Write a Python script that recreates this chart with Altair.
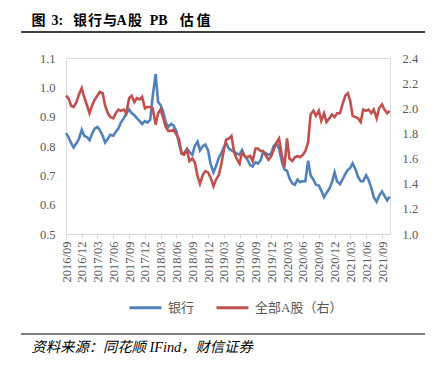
import altair as alt
import pandas as pd

# ---- data (semi-monthly samples, 2016-09-01 .. 2021-10-15)
start_date = "2016-09-01"
n_points = 124

bank_pb = [
    0.844, 0.83, 0.81, 0.795, 0.81, 0.825, 0.855, 0.835, 0.83, 0.82,
    0.845, 0.86, 0.865, 0.855, 0.835, 0.812, 0.825, 0.838, 0.835, 0.848,
    0.86, 0.88, 0.895, 0.91, 0.925, 0.912, 0.905, 0.895, 0.885, 0.875,
    0.885, 0.88, 0.89, 0.97, 1.045, 0.95, 0.94, 0.92, 0.88, 0.865,
    0.875, 0.87, 0.85, 0.81, 0.775, 0.775, 0.79, 0.78, 0.77, 0.80,
    0.815, 0.785, 0.80, 0.805, 0.785, 0.74, 0.71, 0.73, 0.76, 0.775,
    0.795, 0.81, 0.79, 0.785, 0.78, 0.775, 0.77, 0.786, 0.765, 0.755,
    0.735, 0.73, 0.745, 0.74, 0.752, 0.78, 0.775, 0.77, 0.775, 0.80,
    0.81, 0.79, 0.745, 0.72, 0.715, 0.69, 0.672, 0.668, 0.685, 0.677,
    0.68, 0.68, 0.75, 0.70, 0.685, 0.668, 0.665, 0.648, 0.625, 0.64,
    0.655, 0.675, 0.71, 0.68, 0.67, 0.685, 0.705, 0.718, 0.725, 0.741,
    0.72, 0.695, 0.68, 0.68, 0.70, 0.685, 0.657, 0.625, 0.61, 0.63,
    0.645, 0.63, 0.615, 0.627,
]

all_a_pb = [
    2.10, 2.08, 2.02, 2.01, 2.05, 2.11, 2.16, 2.09, 2.02, 1.96,
    2.03, 2.07, 2.10, 2.13, 2.12, 2.02, 1.96, 1.93, 1.92, 1.96,
    1.99, 1.98, 1.99, 1.96, 2.08, 2.10, 2.05, 2.08, 2.07, 2.09,
    2.00, 2.01, 2.01, 2.00, 1.87, 1.96, 1.99, 1.93, 1.85, 1.82,
    1.82, 1.83, 1.79, 1.76, 1.64, 1.63, 1.67, 1.58, 1.60, 1.57,
    1.46, 1.40, 1.47, 1.50, 1.49, 1.45, 1.38, 1.43, 1.47, 1.55,
    1.66, 1.75, 1.76, 1.78, 1.65, 1.60, 1.56, 1.65, 1.62, 1.61,
    1.62, 1.58, 1.68, 1.68, 1.66, 1.66, 1.62, 1.59, 1.62, 1.67,
    1.73, 1.76, 1.62, 1.53, 1.76, 1.60, 1.58, 1.61, 1.62, 1.61,
    1.63, 1.66, 1.73, 1.95, 1.98, 1.94, 1.98, 1.90, 1.96, 1.89,
    1.92, 1.95, 1.93, 1.96, 1.96, 2.03, 2.10, 2.12, 2.06, 1.94,
    1.93, 1.92, 1.89, 1.99, 1.98, 1.99, 1.96, 1.99, 1.92, 2.00,
    2.03, 1.99, 1.96, 1.98,
]

series_names = ["银行", "全部A股（右）"]
series_colors = ["#4F81BD", "#C0504D"]

tick_labels = [
    "2016/09", "2016/12", "2017/03", "2017/06", "2017/09", "2017/12",
    "2018/03", "2018/06", "2018/09", "2018/12", "2019/03", "2019/06",
    "2019/09", "2019/12", "2020/03", "2020/06", "2020/09", "2020/12",
    "2021/03", "2021/06", "2021/09",
]
left_ticks = [0.5, 0.6, 0.7, 0.8, 0.9, 1.0, 1.1]
right_ticks = [1.0, 1.2, 1.4, 1.6, 1.8, 2.0, 2.2, 2.4]

# title "图 3：银行与 A 股 PB 估值" as spaced pieces
title_pieces = ["图", "3:", "银", "行", "与", "A", "股", "PB", "估", "值"]
title_offsets = [-34.6, -14.6, 7.0, 22.0, 37.0, 50.4, 62.0, 83.7, 113.7, 130.4]
source_text = "资料来源：同花顺 IFind，财信证券"

# ---- build tables
dates = pd.date_range(start_date, periods=n_points, freq="SMS")
date_str = [d.strftime("%Y-%m-%d") for d in dates]
df = pd.concat([
    pd.DataFrame({"date": date_str, "v": bank_pb, "series": series_names[0]}),
    pd.DataFrame({"date": date_str, "v": all_a_pb, "series": series_names[1]}),
])
tick_ms = [int(pd.Timestamp(t.replace("/", "-") + "-01", tz="UTC").timestamp() * 1000)
           for t in tick_labels]
title_df = pd.DataFrame({"t": title_pieces, "px": title_offsets})

W, H = 324, 176
serif = "Liberation Serif, Noto Sans CJK SC"
gray = "#595959"

color = alt.Color("series:N", scale=alt.Scale(domain=series_names, range=series_colors),
                  sort=series_names,
                  legend=alt.Legend(title=None, orient="none", legendX=62, legendY=232,
                                    direction="horizontal", symbolType="stroke",
                                    symbolSize=1024, symbolStrokeWidth=3,
                                    labelFont=serif, labelFontSize=13, labelColor=gray,
                                    labelOffset=5, columnPadding=15, padding=0))

xenc = alt.X("date:T", scale=alt.Scale(domain=["2016-09-01", "2021-10-17"], nice=False),
             axis=alt.Axis(values=tick_ms, labelExpr="utcFormat(datum.value, '%Y/%m')",
                           labelAngle=270, labelFont=serif, labelFontSize=12.5,
                           labelColor=gray, tickSize=4, tickColor="#d9d9d9",
                           domainColor="#d9d9d9", grid=False, title=None,
                           labelPadding=3, labelOverlap=False, labelFlush=False))

base = alt.Chart(df)

bank = base.transform_filter(alt.datum.series == series_names[0]).mark_line(
    strokeWidth=2.6, interpolate="linear").encode(
    x=xenc,
    y=alt.Y("v:Q", scale=alt.Scale(domain=[0.5, 1.1], nice=False, zero=False),
            axis=alt.Axis(orient="left", values=left_ticks, format=".1f", domain=False,
                          ticks=False, grid=False, title=None, labelFont=serif,
                          labelFontSize=12.5, labelColor=gray, labelPadding=11)),
    color=color,
)

alla = base.transform_filter(alt.datum.series == series_names[1]).mark_line(
    strokeWidth=2.6, interpolate="linear").encode(
    x=xenc,
    y=alt.Y("v:Q", scale=alt.Scale(domain=[1.0, 2.4], nice=False, zero=False),
            axis=alt.Axis(orient="right", values=right_ticks, format=".1f", domain=False,
                          ticks=False, grid=False, title=None, labelFont=serif,
                          labelFontSize=12.5, labelColor=gray, labelPadding=12)),
    color=color,
)

one = alt.Data(values=[{"a": 1}])
top_rule = alt.Chart(one).mark_rule(color="black", strokeWidth=1.5).encode(
    x=alt.value(-45), x2=alt.value(359), y=alt.value(-26))
bottom_rule = alt.Chart(one).mark_rule(color="black", strokeWidth=1.2).encode(
    x=alt.value(-45), x2=alt.value(359), y=alt.value(276))
title_mark = alt.Chart(title_df).mark_text(
    font=serif, fontWeight="bold", fontSize=14,
    align="left", baseline="middle", color="black").encode(
    x=alt.X("px:Q", scale=None), y=alt.value(-37), text="t:N")
source_mark = alt.Chart(one).mark_text(
    text=source_text, font=serif, fontStyle="italic", fontSize=14.3,
    align="left", baseline="middle", color="black").encode(
    x=alt.value(-34.5), y=alt.value(290))

chart = alt.layer(bank, alla, top_rule, bottom_rule, title_mark, source_mark).resolve_scale(
    y="independent", x="shared", color="shared"
).properties(
    width=W, height=H,
    autosize=alt.AutoSizeParams(type="none"),
    padding={"left": 58, "top": 50, "right": 35, "bottom": 124},
).configure_view(stroke=None).configure(background="white")

chart.save("out.html", embed_options={"renderer": "svg", "actions": False})
